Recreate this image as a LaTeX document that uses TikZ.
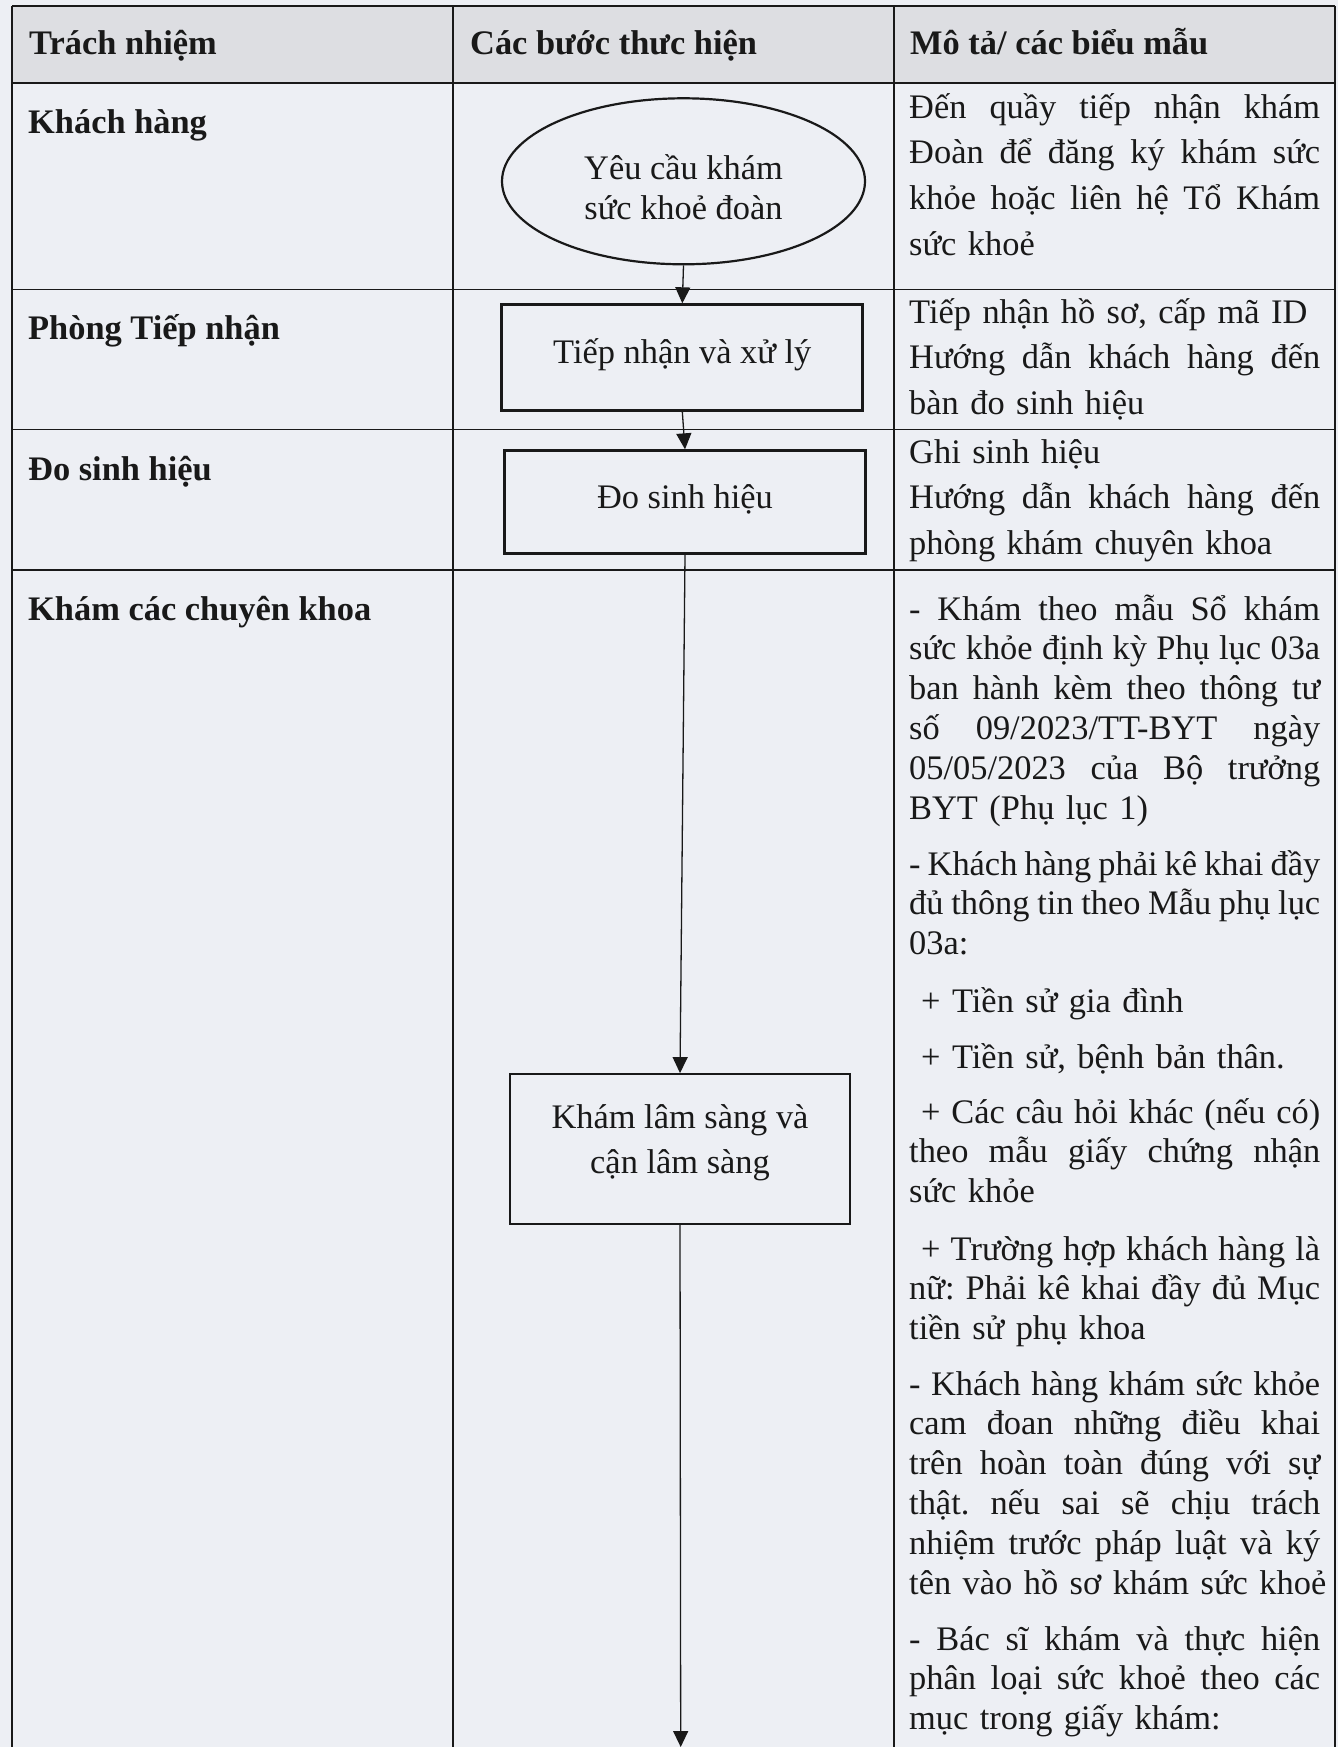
\documentclass[tikz,border=0pt]{standalone}
\usepackage{fontspec}
\setmainfont{Liberation Serif}
\usetikzlibrary{arrows.meta,shapes.geometric}
\definecolor{pagebg}{RGB}{237,239,244}
\definecolor{headbg}{RGB}{221,222,226}
\definecolor{ink}{RGB}{25,25,25}
\newlength{\colw}\setlength{\colw}{411pt}
\newcommand{\jl}[1]{\leavevmode\hbox to\colw{\spaceskip=0pt\xspaceskip=0pt\relax #1}}
\newcommand{\jli}[1]{\leavevmode\hspace*{12pt}\hbox to\dimexpr\colw-12pt\relax{\spaceskip=0pt\xspaceskip=0pt\relax #1}}
\frenchspacing
\begin{document}
\begin{tikzpicture}[x=1pt,y=-1pt,
  tline/.style={draw=ink,line width=1.8pt},
  hd/.style={inner sep=0pt,anchor=base west,text=ink,font=\fontsize{34.4}{45.7}\selectfont\bfseries},
  descA/.style={inner sep=0pt,anchor=base west,text=ink,text width=\colw,font=\fontsize{34.4}{45.7}\selectfont\frenchspacing},
  descB/.style={descA,font=\fontsize{34.4}{39.8}\selectfont\frenchspacing},
  startshape/.style={ellipse,draw=ink,line width=2.2pt,minimum width=363pt,minimum height=166pt,inner sep=0pt,text=ink,
    font=\fontsize{34.4}{40}\selectfont,text height=25pt,text depth=28.6pt},
  thickbox/.style={rectangle,draw=ink,line width=3pt,inner sep=0pt,text=ink,
    font=\fontsize{34.4}{45}\selectfont,text height=20pt,text depth=8pt},
  thinbox/.style={rectangle,draw=ink,line width=1.4pt,inner sep=0pt,text=ink,
    font=\fontsize{34.4}{45}\selectfont,text height=20pt,text depth=61pt},
  arr/.style={draw=ink,line width=1.3pt,-{Triangle[length=16pt,width=15pt]}}]
% page and table
\fill[pagebg] (0,0) rectangle (1338,1747);
\useasboundingbox (0,0) rectangle (1338,1747);
\fill[headbg] (12,6) rectangle (1335,83);
\draw[tline] (12,6) -- (1335,6);
\draw[tline,line width=2.4pt] (12,83) -- (1335,83);
\draw[tline] (12,289.5) -- (1335,289.5);
\draw[tline] (12,429.5) -- (1335,429.5);
\draw[tline] (12,570) -- (1335,570);
\draw[tline] (12,6) -- (12,1747);
\draw[tline] (453,6) -- (453,1747);
\draw[tline] (894,6) -- (894,1747);
\draw[tline] (1335,6) -- (1335,1747);
% header
\node[hd] (h1) at (29,55) {Trách nhiệm};
\node[hd] (h2) at (470,55) {Các bước thưc hiện};
\node[hd] (h3) at (910,55) {Mô tả/ các biểu mẫu};
% left column
\node[hd] (r1) at (28,134) {Khách hàng};
\node[hd] (r2) at (28,339) {Phòng Tiếp nhận};
\node[hd] (r3) at (28,480) {Đo sinh hiệu};
\node[hd] (r4) at (28,620) {Khám các chuyên khoa};
% flow
\node[startshape] (ell) at (683.5,181.3) {\begin{tabular}[t]{@{}c@{}}Yêu cầu khám\\sức khoẻ đoàn\end{tabular}};
\node[thickbox,minimum width=361pt,minimum height=105.4pt] (b1) at (682.3,357.5) {Tiếp nhận và xử lý};
\node[thickbox,minimum width=360.4pt,minimum height=102.7pt] (b2) at (685,502.2) {Đo sinh hiệu};
\node[thinbox,minimum width=340pt,minimum height=150pt] (b3) at (680,1148.8) {\begin{tabular}[t]{@{}c@{}}Khám lâm sàng và\\cận lâm sàng\end{tabular}};
\coordinate (bot) at (680.7,1747);
\draw[arr] (ell.south) -- (b1.north);
\draw[arr] (b1.south) -- (b2.north);
\draw[arr] (b2.south) -- (b3.north);
\draw[arr] (b3.south) -- (bot);
% right column
\node[descA] (d1) at (909,118.3) {\jl{Đến quầy tiếp nhận khám}\\\jl{Đoàn để đăng ký khám sức}\\\jl{khỏe hoặc liên hệ Tổ Khám}\\\mbox{sức khoẻ}};
\node[descA] (d2) at (909,323) {\mbox{Tiếp nhận hồ sơ, cấp mã ID}\\\jl{Hướng dẫn khách hàng đến}\\\mbox{bàn đo sinh hiệu}};
\node[descA] (d3) at (909,463) {\mbox{Ghi sinh hiệu}\\\jl{Hướng dẫn khách hàng đến}\\\mbox{phòng khám chuyên khoa}};
\node[descB] (d4) at (909,620) {\jl{- Khám theo mẫu Sổ khám}\\\jl{sức khỏe định kỳ Phụ lục 03a}\\\jl{ban hành kèm theo thông tư}\\\jl{số 09/2023/TT-BYT ngày}\\\jl{05/05/2023 của Bộ trưởng}\\\mbox{BYT (Phụ lục 1)}};
\node[descB] (d5) at (909,875) {\jl{- Khách hàng phải kê khai đầy}\\\jl{đủ thông tin theo Mẫu phụ lục}\\\mbox{03a:}};
\node[descB] (d6) at (909,1012) {\hspace*{12pt}\mbox{+ Tiền sử gia đình}};
\node[descB] (d7) at (909,1068) {\hspace*{12pt}\mbox{+ Tiền sử, bệnh bản thân.}};
\node[descB] (d8) at (909,1123) {\jli{+ Các câu hỏi khác (nếu có)}\\\jl{theo mẫu giấy chứng nhận}\\\mbox{sức khỏe}};
\node[descB] (d9) at (909,1260) {\jli{+ Trường hợp khách hàng là}\\\jl{nữ: Phải kê khai đầy đủ Mục}\\\mbox{tiền sử phụ khoa}};
\node[descB] (d10) at (909,1395) {\jl{- Khách hàng khám sức khỏe}\\\jl{cam đoan những điều khai}\\\jl{trên hoàn toàn đúng với sự}\\\jl{thật. nếu sai sẽ chịu trách}\\\jl{nhiệm trước pháp luật và ký}\\\mbox{tên vào hồ sơ khám sức khoẻ}};
\node[descB] (d11) at (909,1650) {\jl{- Bác sĩ khám và thực hiện}\\\jl{phân loại sức khoẻ theo các}\\\mbox{mục trong giấy khám:}};
\end{tikzpicture}
\end{document}
